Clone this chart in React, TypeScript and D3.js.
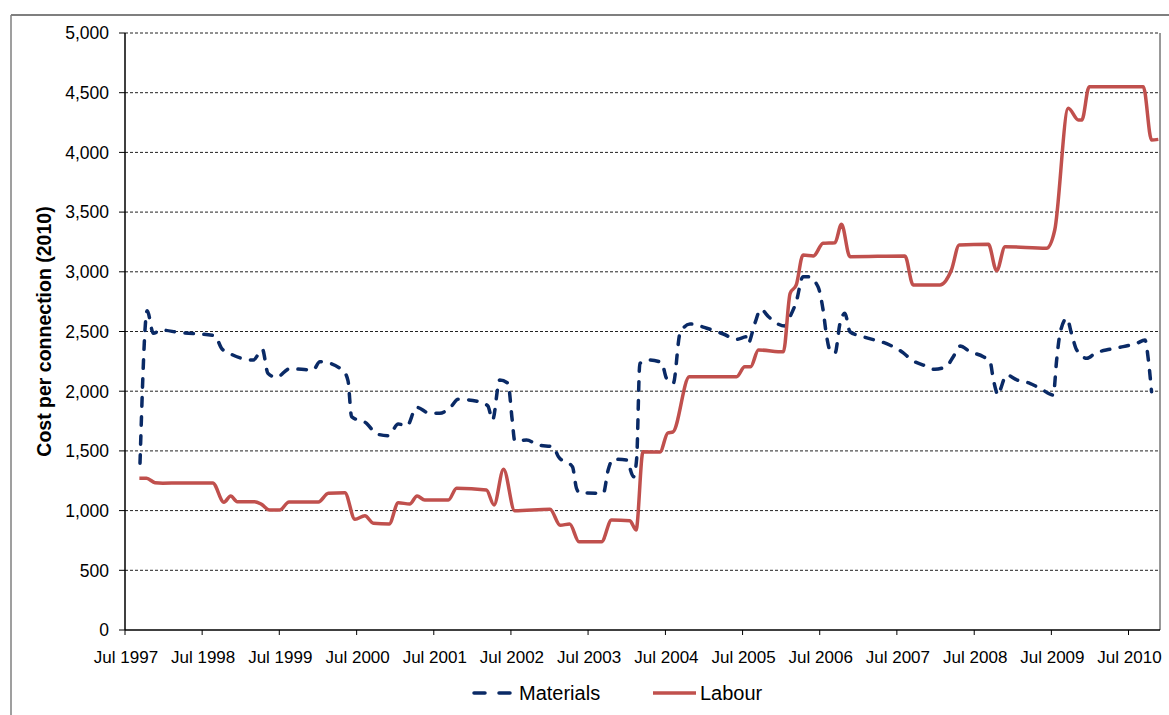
import React from 'react'
import * as d3 from 'd3'

// Cost per connection (2010 dollars)
const materialsDates = [
  '1997-09-10', '1997-10-14', '1997-11-12', '1997-12-21', '1998-03-09', '1998-08-30', '1998-10-01', '1998-11-02',
  '1999-02-28', '1999-04-12', '1999-05-08', '1999-06-17', '1999-08-20', '1999-12-08', '2000-01-09', '2000-04-25',
  '2000-05-21', '2000-06-07', '2000-08-17', '2000-10-04', '2000-11-28', '2001-01-14', '2001-02-24', '2001-04-10',
  '2001-06-12', '2001-07-29', '2001-09-23', '2001-10-24', '2002-02-05', '2002-03-14', '2002-04-05', '2002-05-09',
  '2002-06-17', '2002-07-07', '2002-07-19', '2002-09-13', '2002-11-08', '2003-01-17', '2003-02-11', '2003-04-18',
  '2003-05-07', '2003-05-22', '2003-09-11', '2003-10-04', '2003-10-27', '2003-12-30', '2004-02-01', '2004-02-16',
  '2004-03-02', '2004-04-18', '2004-06-13', '2004-07-06', '2004-08-07', '2004-09-08', '2004-10-25', '2005-01-13',
  '2005-04-01', '2005-06-03', '2005-07-19', '2005-07-27', '2005-08-28', '2005-09-25', '2005-11-01', '2005-12-10',
  '2006-01-18', '2006-02-04', '2006-03-12', '2006-04-13', '2006-05-07', '2006-06-23', '2006-07-17', '2006-08-03',
  '2006-08-18', '2006-09-11', '2006-10-05', '2006-10-28', '2006-11-21', '2007-01-24', '2007-05-28', '2007-07-30',
  '2007-09-09', '2007-11-03', '2007-12-28', '2008-02-22', '2008-03-24', '2008-04-25', '2008-06-11', '2008-08-13',
  '2008-09-14', '2008-09-30', '2008-10-23', '2008-11-01', '2008-12-02', '2009-01-19', '2009-03-21', '2009-05-16',
  '2009-07-10', '2009-07-26', '2009-08-11', '2009-09-12', '2009-10-06', '2009-10-29', '2009-12-16', '2010-01-24',
  '2010-04-04', '2010-06-06', '2010-08-09', '2010-09-17', '2010-10-03', '2010-10-18',
]
const materialsCost = [
  1396, 2674, 2485, 2512, 2493, 2465, 2359, 2323,
  2261, 2351, 2150, 2116, 2188, 2178, 2247, 2178,
  2089, 1787, 1731, 1642, 1627, 1725, 1709, 1865,
  1815, 1815, 1876, 1932, 1910, 1876, 1759, 2094,
  2066, 1759, 1585, 1591, 1549, 1535, 1451, 1368,
  1187, 1150, 1145, 1340, 1430, 1424, 1284, 1438,
  2233, 2261, 2239, 2108, 2066, 2485, 2563, 2527,
  2479, 2435, 2456, 2401, 2568, 2686, 2624, 2568,
  2546, 2602, 2749, 2959, 2959, 2875, 2680, 2456,
  2345, 2317, 2568, 2652, 2498, 2456, 2387, 2323,
  2261, 2219, 2183, 2211, 2289, 2378, 2331, 2289,
  2247, 2094, 1968, 2010, 2136, 2094, 2066, 2016,
  1968, 2261, 2485, 2610, 2471, 2345, 2275, 2317,
  2351, 2373, 2401, 2429, 2261, 1996,
]

const labourDates = [
  '1997-09-07', '1997-10-11', '1997-11-20', '1997-12-27', '1998-08-20', '1998-10-12', '1998-11-13', '1998-12-14',
  '1999-03-06', '1999-04-08', '1999-05-16', '1999-07-03', '1999-08-16', '2000-01-02', '2000-02-18', '2000-05-06',
  '2000-06-23', '2000-08-09', '2000-09-18', '2000-12-02', '2001-01-14', '2001-03-09', '2001-04-13', '2001-05-19',
  '2001-09-08', '2001-10-17', '2002-03-07', '2002-04-12', '2002-05-27', '2002-07-19', '2003-01-02', '2003-02-19',
  '2003-04-05', '2003-05-19', '2003-09-03', '2003-10-20', '2004-01-15', '2004-02-13', '2004-03-17', '2004-06-05',
  '2004-07-12', '2004-08-06', '2004-10-22', '2005-06-03', '2005-07-11', '2005-08-08', '2005-09-14', '2006-01-10',
  '2006-02-11', '2006-03-12', '2006-04-13', '2006-06-01', '2006-07-17', '2006-09-11', '2006-10-12', '2006-11-21',
  '2007-08-08', '2007-09-16', '2008-01-21', '2008-03-15', '2008-04-21', '2008-09-06', '2008-10-15', '2008-11-24',
  '2009-06-08', '2009-07-17', '2009-09-19', '2009-11-06', '2009-11-22', '2009-12-27', '2010-09-09', '2010-10-18',
  '2010-11-19',
]
const labourCost = [
  1270, 1270, 1234, 1230, 1232, 1070, 1122, 1075,
  1075, 1052, 1005, 1005, 1072, 1072, 1145, 1150,
  927, 957, 894, 888, 1066, 1055, 1122, 1089,
  1089, 1187, 1172, 1047, 1346, 999, 1011, 877,
  888, 740, 740, 921, 915, 837, 1493, 1490,
  1650, 1660, 2121, 2121, 2205, 2205, 2345, 2330,
  2820, 2890, 3140, 3132, 3239, 3244, 3398, 3127,
  3132, 2890, 2890, 3015, 3224, 3230, 3009, 3210,
  3197, 3350, 4369, 4271, 4271, 4550, 4550, 4104,
  4109,
]

const yTicks = [0, 500, 1000, 1500, 2000, 2500, 3000, 3500, 4000, 4500, 5000]
const xTickYears = [1997, 1998, 1999, 2000, 2001, 2002, 2003, 2004, 2005, 2006, 2007, 2008, 2009, 2010]

const MATERIALS_BLUE = '#0a2a66'
const LABOUR_RED = '#c0504d'
const FONT = 'Arial, "Liberation Sans", sans-serif'

const parse = d3.timeParse('%Y-%m-%d')

export default function App() {
  const width = 1169
  const height = 715
  const plot = { left: 125, right: 1160, top: 33, bottom: 630 }

  const x = d3
    .scaleTime()
    .domain([new Date(1997, 6, 1), new Date(2010, 10, 27)])
    .range([plot.left, plot.right])

  const y = d3.scaleLinear().domain([0, 5000]).range([plot.bottom, plot.top])

  const line = d3
    .line<[Date, number]>()
    .x((d) => x(d[0]))
    .y((d) => y(d[1]))
    .curve(d3.curveMonotoneX)

  const materials = materialsDates.map((d, i) => [parse(d) as Date, materialsCost[i]] as [Date, number])
  const labour = labourDates.map((d, i) => [parse(d) as Date, labourCost[i]] as [Date, number])

  const fmt = d3.format(',')

  return (
    <svg
      width={width}
      height={height}
      style={{ position: 'absolute', left: 0, top: 0, background: '#fff' }}
      fontFamily={FONT}
    >
      {/* outer chart border */}
      <line x1={11} x2={width} y1={15} y2={15} stroke="#7f7f7f" strokeWidth={2} />
      <line x1={11} x2={11} y1={15} y2={height} stroke="#7f7f7f" strokeWidth={1.5} />

      {/* gridlines */}
      {yTicks
        .filter((t) => t > 0)
        .map((t) => (
          <line
            key={`g${t}`}
            x1={plot.left}
            x2={plot.right}
            y1={y(t)}
            y2={y(t)}
            stroke="#222"
            strokeWidth={1}
            strokeDasharray="3,2"
          />
        ))}
      <line x1={plot.right} x2={plot.right} y1={plot.top} y2={plot.bottom} stroke="#333" strokeWidth={1} />

      {/* y axis */}
      <line x1={plot.left} x2={plot.left} y1={plot.top} y2={plot.bottom} stroke="#000" strokeWidth={1.5} />
      {yTicks.map((t) => (
        <g key={`y${t}`}>
          <line x1={plot.left - 6} x2={plot.left} y1={y(t)} y2={y(t)} stroke="#000" />
          <text x={plot.left - 16} y={y(t)} dy="0.36em" textAnchor="end" fontSize={17.5} fill="#000">
            {fmt(t)}
          </text>
        </g>
      ))}

      {/* x axis */}
      <line x1={plot.left} x2={plot.right} y1={plot.bottom} y2={plot.bottom} stroke="#000" strokeWidth={1.5} />
      {xTickYears.map((yr) => {
        const px = x(new Date(yr, 6, 1))
        return (
          <g key={`x${yr}`}>
            <line x1={px} x2={px} y1={plot.bottom} y2={plot.bottom + 5} stroke="#000" />
            <text x={px + 1} y={663} textAnchor="middle" fontSize={17} fill="#000">
              {`Jul ${yr}`}
            </text>
          </g>
        )
      })}

      <text
        transform={`translate(51,${(plot.top + plot.bottom) / 2}) rotate(-90)`}
        textAnchor="middle"
        fontSize={19.5}
        fontWeight="bold"
        fill="#000"
      >
        Cost per connection (2010)
      </text>

      {/* series */}
      <path
        d={line(materials) ?? ''}
        fill="none"
        stroke={MATERIALS_BLUE}
        strokeWidth={3.5}
        strokeLinecap="round"
        strokeDasharray="8.5,10.5"
      />
      <path d={line(labour) ?? ''} fill="none" stroke={LABOUR_RED} strokeWidth={3.5} strokeLinejoin="round" />

      {/* legend */}
      <line
        x1={474}
        x2={511}
        y1={693}
        y2={693}
        stroke={MATERIALS_BLUE}
        strokeWidth={3.5}
        strokeLinecap="round"
        strokeDasharray="11,14"
      />
      <text x={519} y={700} fontSize={20} fill="#000">
        Materials
      </text>
      <line x1={653} x2={696} y1={693} y2={693} stroke={LABOUR_RED} strokeWidth={3.5} />
      <text x={700} y={700} fontSize={20} fill="#000">
        Labour
      </text>
    </svg>
  )
}
